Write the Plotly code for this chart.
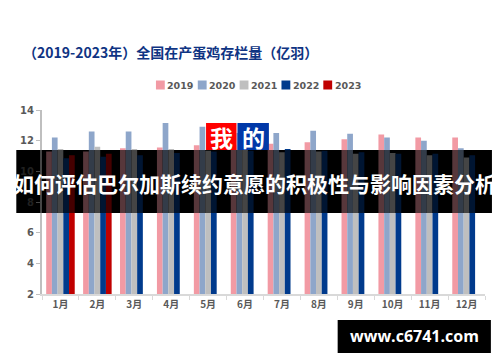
import plotly.graph_objects as go

# ---- data ----
months = ["1月", "2月", "3月", "4月", "5月", "6月", "7月", "8月", "9月", "10月", "11月", "12月"]
years = ["2019", "2020", "2021", "2022", "2023"]
v2019 = [11.3, 11.3, 11.5, 11.55, 11.7, 11.7, 11.8, 11.9, 12.1, 12.4, 12.2, 12.2]
v2020 = [12.2, 12.6, 12.6, 13.15, 12.9, 12.5, 12.5, 12.65, 12.45, 12.2, 12.0, 11.5]
v2021 = [11.45, 11.6, 11.45, 11.45, 11.35, 11.4, 11.25, 11.3, 11.15, 11.2, 11.05, 10.9]
v2022 = [10.85, 10.95, 11.05, 11.2, 11.3, 11.35, 11.45, 11.35, 11.25, 11.15, 11.15, 11.05]
v2023 = [11.05, 11.15, None, None, None, None, None, None, None, None, None, None]
series = [v2019, v2020, v2021, v2022, v2023]
colors = ["#F29AA4", "#8EA6CA", "#BFBFBF", "#003A8C", "#C00000"]
title_text = "（2019-2023年）全国在产蛋鸡存栏量（亿羽）"
banner_text = "如何评估巴尔加斯续约意愿的积极性与影响因素分析"
watermark = "www.c6741.com"

# ---- geometry (screen pixels; the page body adds an 8px offset) ----
OFF = 8
SW, SH = 500, 362
W, H = SW - OFF, SH - OFF
# plot area on screen: x 34..485, y 110..294
PL, PR, PT, PB = 34, 485, 110, 294
ML, MR, MT, MB = PL - OFF, W - (PR - OFF), PT - OFF, H - (PB - OFF)
PW = PR - PL
PH = PB - PT


def px(x):
    return (x - PL) / PW


def py(y):
    return (PB - y) / PH


FONT = "Noto Sans CJK SC"

fig = go.Figure()
for name, vals, col in zip(years, series, colors):
    fig.add_trace(go.Bar(x=months, y=vals, name=name, marker=dict(color=col, line=dict(width=0)),
                         showlegend=False))

shapes = []
annotations = []

# title
annotations.append(dict(x=px(13), y=py(52), xref="paper", yref="paper", xanchor="left", yanchor="middle",
                        text="<b>" + title_text + "</b>", showarrow=False,
                        font=dict(family=FONT, size=14, color="#0F3483")))

# custom legend
lx = 150
for name, col in zip(years, colors):
    shapes.append(dict(type="rect", xref="paper", yref="paper", x0=px(lx), x1=px(lx + 9),
                       y0=py(89.5), y1=py(80.5), fillcolor=col, line=dict(width=0), layer="above"))
    annotations.append(dict(x=px(lx + 9.5), y=py(85.5), xref="paper", yref="paper", xanchor="left",
                            yanchor="middle", text="<b>" + name + "</b>", showarrow=False,
                            font=dict(family="DejaVu Sans", size=9.5, color="#595959")))
    lx += 42.6

# black base under bars for the banner area
shapes.append(dict(type="rect", xref="paper", yref="paper", x0=px(8), x1=px(492), y0=py(213), y1=py(150),
                   fillcolor="black", line=dict(width=0), layer="below"))
# "我" "的" boxes
shapes.append(dict(type="rect", xref="paper", yref="paper", x0=px(201), x1=px(232), y0=py(150), y1=py(123),
                   fillcolor="#FF0000", line=dict(width=0), layer="above"))
shapes.append(dict(type="rect", xref="paper", yref="paper", x0=px(233), x1=px(265), y0=py(150), y1=py(123),
                   fillcolor="#0038A8", line=dict(width=0), layer="above"))
# banner overlay
shapes.append(dict(type="rect", xref="paper", yref="paper", x0=px(8), x1=px(492), y0=py(213), y1=py(150),
                   fillcolor="rgba(0,0,0,0.64)", line=dict(width=0), layer="above"))
# watermark box
shapes.append(dict(type="rect", xref="paper", yref="paper", x0=px(335), x1=px(491), y0=py(353), y1=py(320),
                   fillcolor="black", line=dict(width=0), layer="above"))

annotations.append(dict(x=px(216.5), y=py(137), xref="paper", yref="paper", xanchor="center", yanchor="middle",
                        text="<b>我</b>", showarrow=False, font=dict(family=FONT, size=23, color="white")))
annotations.append(dict(x=px(249), y=py(137), xref="paper", yref="paper", xanchor="center", yanchor="middle",
                        text="<b>的</b>", showarrow=False, font=dict(family=FONT, size=23, color="white")))
annotations.append(dict(x=px(250), y=py(183), xref="paper", yref="paper", xanchor="center", yanchor="middle",
                        text="<b>" + banner_text + "</b>", showarrow=False,
                        font=dict(family=FONT, size=21, color="white")))
annotations.append(dict(x=px(413), y=py(336), xref="paper", yref="paper", xanchor="center", yanchor="middle",
                        text="<b>" + watermark + "</b>", showarrow=False,
                        font=dict(family="Open Sans", size=16, color="white")))

fig.update_layout(
    width=W, height=H, autosize=False,
    margin=dict(l=ML, r=MR, t=MT, b=MB, pad=0),
    paper_bgcolor="white", plot_bgcolor="white",
    barmode="group", bargap=0.227, bargroupgap=0,
    font=dict(family=FONT, color="#595959"),
    shapes=shapes, annotations=annotations,
    xaxis=dict(type="category", range=[-0.5, 11.5], showline=True, linecolor="#D9D9D9", linewidth=2,
               ticks="outside", tickson="boundaries", ticklen=4, tickcolor="#D9D9D9", showgrid=False,
               tickfont=dict(family=FONT, size=10, color="#595959", weight="bold")),
    yaxis=dict(range=[2, 14], dtick=2, showline=True, linecolor="#BFBFBF", linewidth=2, ticks="outside",
               ticklen=4, tickcolor="#BFBFBF", showgrid=False, zeroline=False,
               tickfont=dict(family="DejaVu Sans", size=10, color="#595959", weight="bold")),
)

fig.write_html("out.html")
